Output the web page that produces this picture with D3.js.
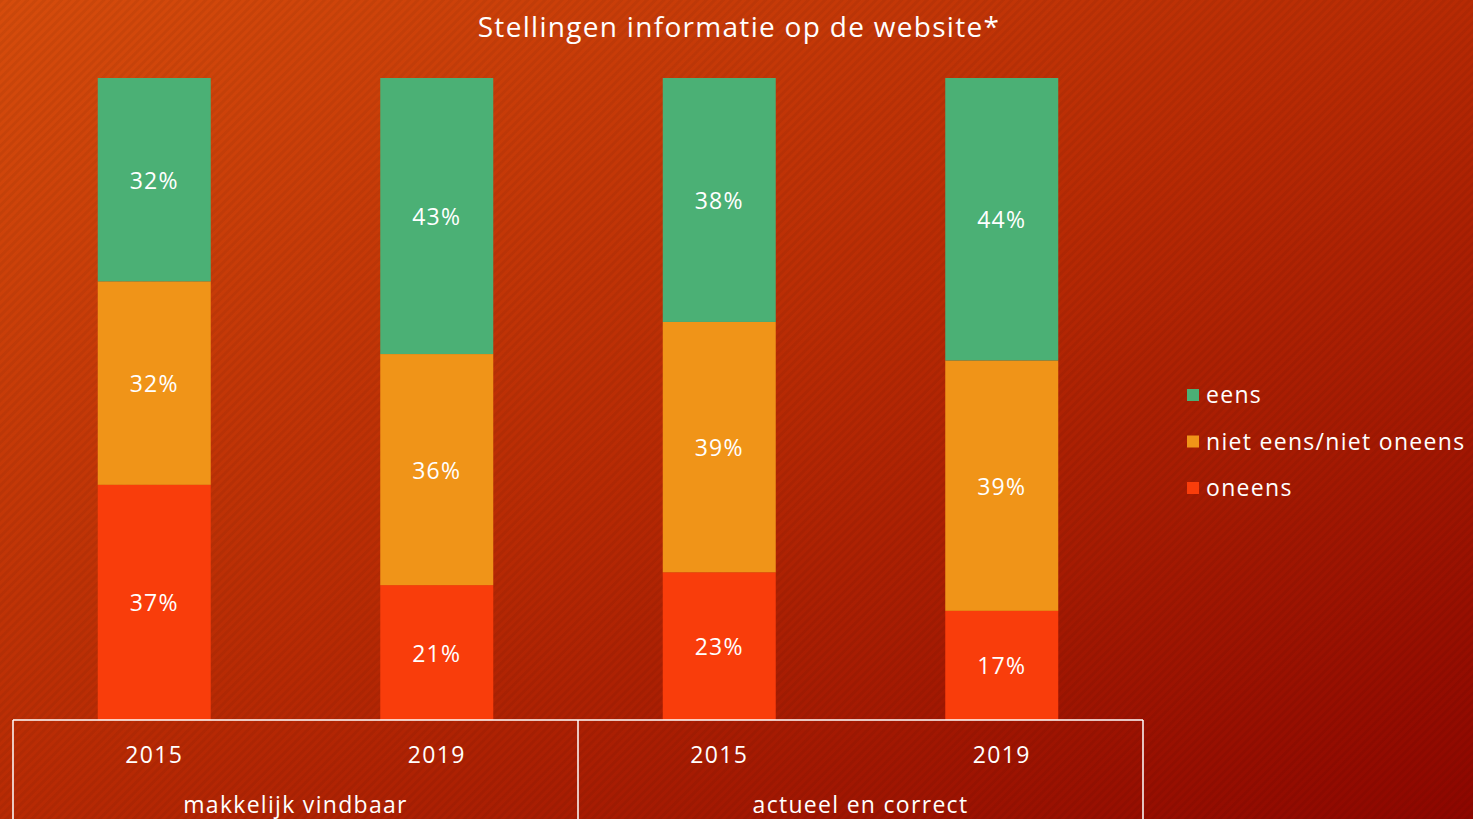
<!DOCTYPE html>
<html lang="nl">
<head>
<meta charset="UTF-8">
<title>Stellingen informatie op de website</title>
<script src="https://d3js.org/d3.v7.min.js"></script>
<style>
  html, body { margin: 0; padding: 0; overflow: hidden; }
  svg { display: block; font-family: "Open Sans", Lato, sans-serif; letter-spacing: 1.3px; }
</style>
</head>
<body>
<svg id="chart" width="1473" height="819"></svg>
<script>
// data
const groups = ["makkelijk vindbaar", "actueel en correct"];
const years = ["2015", "2019"];
const seriesNames = ["oneens", "niet eens/niet oneens", "eens"];
const oneens = [37, 21, 23, 17];
const neutraal = [32, 36, 39, 39];
const eens = [32, 43, 38, 44];
const colors = ["#f93d0b", "#f09418", "#4bb075"];

const width = 1473, height = 819;
const svg = d3.select("#chart");

// background gradient + diagonal stripes
const defs = svg.append("defs");
const grad = defs.append("linearGradient").attr("id", "bg")
    .attr("x1", 0).attr("y1", 0).attr("x2", 1).attr("y2", 1);
grad.append("stop").attr("offset", "0%").attr("stop-color", "#d64c0c");
grad.append("stop").attr("offset", "50%").attr("stop-color", "#b82a04");
grad.append("stop").attr("offset", "100%").attr("stop-color", "#8e0600");

const stripes = defs.append("pattern").attr("id", "stripes")
    .attr("width", 6).attr("height", 6)
    .attr("patternUnits", "userSpaceOnUse")
    .attr("patternTransform", "rotate(45)");
stripes.append("rect").attr("width", 3).attr("height", 6)
    .attr("fill", "#000").attr("opacity", 0.05);

svg.append("rect").attr("width", width).attr("height", height).attr("fill", "url(#bg)");
svg.append("rect").attr("width", width).attr("height", height).attr("fill", "url(#stripes)");

// one row per bar
const rows = [];
groups.forEach((g, gi) => years.forEach((y, yi) => {
    const i = gi * years.length + yi;
    rows.push({ key: g + "|" + y, group: g, year: y,
        "oneens": oneens[i], "niet eens/niet oneens": neutraal[i], "eens": eens[i] });
}));

const margin = { left: 13, right: 330, top: 78, bottom: 99 };
const x = d3.scaleBand()
    .domain(rows.map(d => d.key))
    .range([margin.left, width - margin.right])
    .paddingInner(0.6).paddingOuter(0.3);
const y = d3.scaleLinear().domain([0, 1]).range([height - margin.bottom, margin.top]);
const color = d3.scaleOrdinal().domain(seriesNames).range(colors);

const stacked = d3.stack().keys(seriesNames).offset(d3.stackOffsetExpand)(rows);

const layer = svg.append("g").selectAll("g")
    .data(stacked).join("g")
    .attr("fill", d => color(d.key));

layer.selectAll("rect")
    .data(d => d.map(p => Object.assign(p, { series: d.key })))
    .join("rect")
    .attr("x", d => x(d.data.key))
    .attr("width", x.bandwidth())
    .attr("y", d => y(d[1]))
    .attr("height", d => y(d[0]) - y(d[1]));

layer.selectAll("text")
    .data(d => d)
    .join("text")
    .attr("x", d => x(d.data.key) + x.bandwidth() / 2)
    .attr("y", d => (y(d[0]) + y(d[1])) / 2 + 1)
    .attr("dy", "0.35em")
    .attr("text-anchor", "middle")
    .attr("fill", "#fff")
    .attr("font-size", 23)
    .text(d => d.data[d.series] + "%");

// category axis as a boxed two-level table
const axisY = height - margin.bottom;
const axisLeft = margin.left, axisRight = width - margin.right;
const ax = svg.append("g").attr("stroke", "#fff").attr("stroke-width", 1.5).attr("fill", "none");
ax.append("line").attr("x1", axisLeft).attr("x2", axisRight).attr("y1", axisY).attr("y2", axisY);
const groupEdges = d3.range(groups.length + 1).map(i => axisLeft + (axisRight - axisLeft) * i / groups.length);
ax.selectAll(".sep").data(groupEdges).join("line")
    .attr("x1", d => d).attr("x2", d => d)
    .attr("y1", axisY).attr("y2", height);

svg.append("g").selectAll("text").data(rows).join("text")
    .attr("x", d => x(d.key) + x.bandwidth() / 2)
    .attr("y", axisY + 43)
    .attr("text-anchor", "middle")
    .attr("fill", "#fff").attr("font-size", 23)
    .text(d => d.year);

svg.append("g").selectAll("text").data(groups).join("text")
    .attr("x", (d, i) => (groupEdges[i] + groupEdges[i + 1]) / 2)
    .attr("y", axisY + 93)
    .attr("text-anchor", "middle")
    .attr("fill", "#fff").attr("font-size", 23)
    .text(d => d);

// title
svg.append("text")
    .attr("x", 739).attr("y", 37)
    .attr("text-anchor", "middle")
    .attr("fill", "#fff").attr("font-size", 28)
    .text("Stellingen informatie op de website*");

// legend (top to bottom: eens, neutraal, oneens)
const legend = svg.append("g").attr("transform", "translate(1187,395)")
    .selectAll("g").data(seriesNames.slice().reverse()).join("g")
    .attr("transform", (d, i) => `translate(0,${i * 46.5})`);
legend.append("rect").attr("y", -6).attr("width", 12).attr("height", 12).attr("fill", d => color(d));
legend.append("text").attr("x", 19).attr("dy", "0.35em")
    .attr("fill", "#fff").attr("font-size", 23)
    .text(d => d);
</script>
</body>
</html>
